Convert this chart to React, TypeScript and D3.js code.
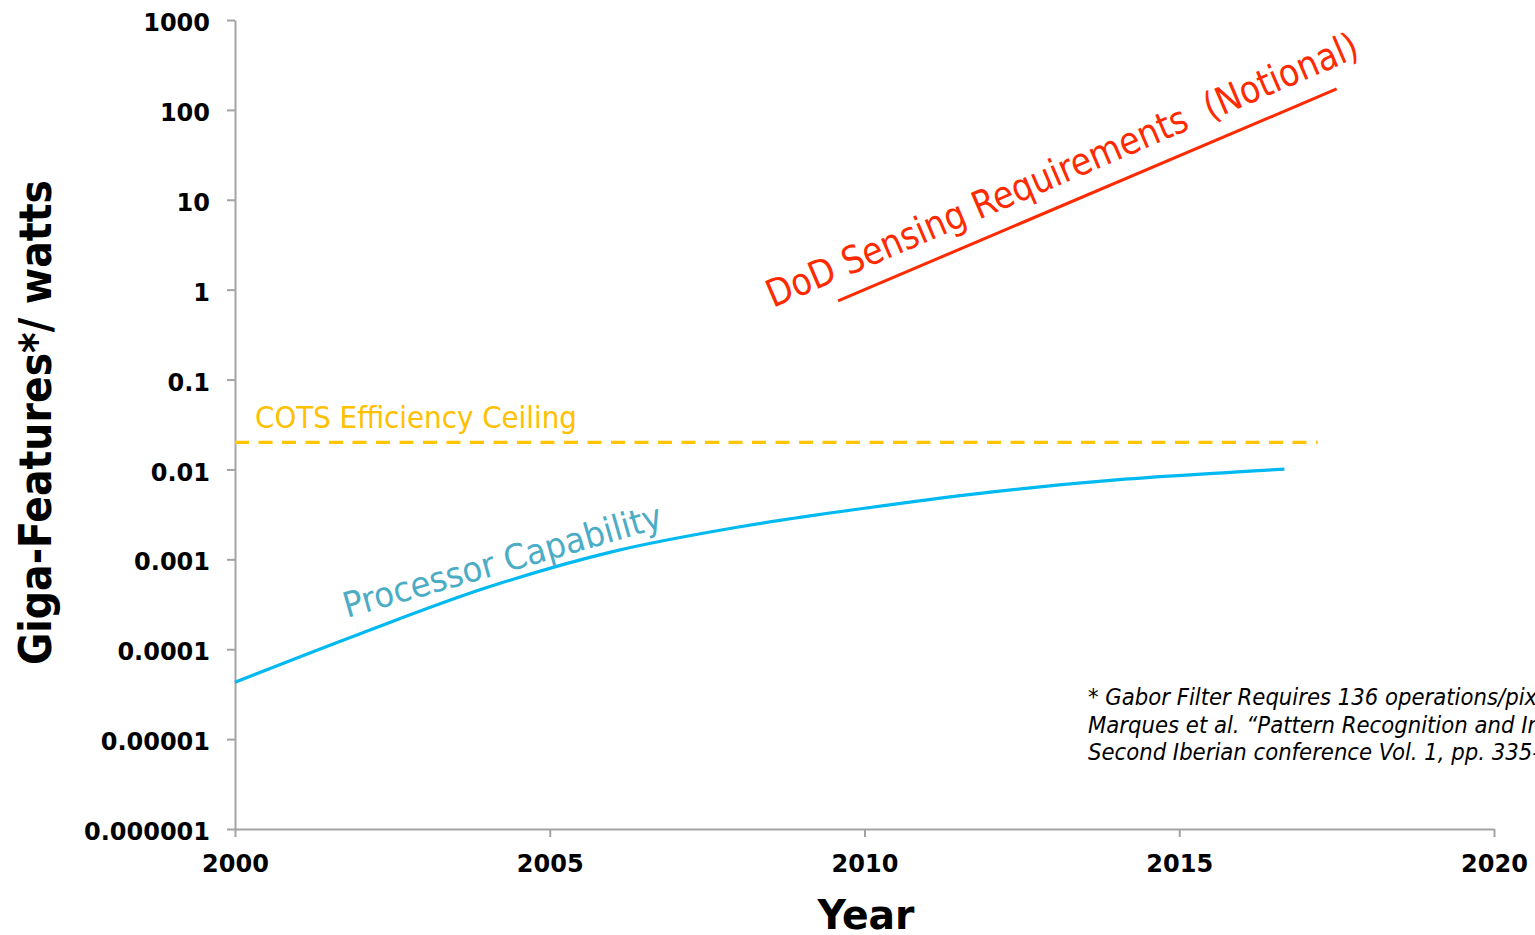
import React, { useEffect, useRef } from "react";
import * as d3 from "d3";

// Processor efficiency (Giga-Features per watt) by year
const procYears = [2000, 2002, 2004, 2006, 2008, 2010, 2012, 2014, 2016, 2016.67];
const procValues = [4.3e-5, 1.5e-4, 4.85e-4, 1.22e-3, 2.29e-3, 3.7e-3, 5.6e-3, 7.64e-3, 9.44e-3, 0.0101];

// Notional DoD sensing requirement trend
const reqYears = [2009.58, 2017.5];
const reqValues = [0.75, 171];

// COTS efficiency ceiling
const ceilingYears = [2000, 2017.2];
const ceilingValue = 0.02;

const yTicks = [1e-6, 1e-5, 1e-4, 1e-3, 1e-2, 0.1, 1, 10, 100, 1000];
const yTickLabels = ["0.000001", "0.00001", "0.0001", "0.001", "0.01", "0.1", "1", "10", "100", "1000"];
const xTicks = [2000, 2005, 2010, 2015, 2020];

const footnoteLines = [
  "* Gabor Filter Requires 136 operations/pixel",
  "Marques et al. \u201CPattern Recognition and Image Analysis\u201D",
  "Second Iberian conference Vol. 1, pp. 335-342",
];

const W = 1535;
const H = 935;
const FONT = "'DejaVu Sans Condensed', 'DejaVu Sans', sans-serif";
const AXIS_GREY = "#a3a3a3";

const x = d3.scaleLinear().domain([2000, 2020]).range([235, 1494]);
const y = d3.scaleLog().domain([1e-6, 1000]).range([829, 20]);

export default function App() {
  const xAxisRef = useRef<SVGGElement>(null);
  const yAxisRef = useRef<SVGGElement>(null);

  useEffect(() => {
    const yAxis = d3
      .axisLeft(y)
      .tickValues(yTicks)
      .tickFormat((_d, i) => yTickLabels[i])
      .tickSize(8)
      .tickSizeOuter(0)
      .tickPadding(17);
    const gy = d3.select(yAxisRef.current!);
    gy.call(yAxis as any);
    gy.select(".domain").attr("stroke", AXIS_GREY).attr("stroke-width", 2);
    gy.selectAll(".tick line").attr("stroke", AXIS_GREY).attr("stroke-width", 2);
    gy.selectAll(".tick text")
      .attr("dy", "0.44em")
      .attr("fill", "#000")
      .style("font-family", "'DejaVu Sans', sans-serif")
      .style("font-weight", "bold")
      .style("font-size", "24px");

    const xAxis = d3
      .axisBottom(x)
      .tickValues(xTicks)
      .tickFormat(d3.format("d") as any)
      .tickSize(8)
      .tickSizeOuter(0)
      .tickPadding(18);
    const gx = d3.select(xAxisRef.current!);
    gx.call(xAxis as any);
    gx.select(".domain").attr("stroke", AXIS_GREY).attr("stroke-width", 2);
    gx.selectAll(".tick line").attr("stroke", AXIS_GREY).attr("stroke-width", 2);
    gx.selectAll(".tick text")
      .attr("fill", "#000")
      .style("font-family", "'DejaVu Sans', sans-serif")
      .style("font-weight", "bold")
      .style("font-size", "24px");
  }, []);

  const procLine = d3
    .line<number>()
    .x((_v, i) => x(procYears[i]))
    .y((v) => y(v))
    .curve(d3.curveCatmullRom.alpha(0.5))(procValues);

  const reqLine = d3
    .line<number>()
    .x((_v, i) => x(reqYears[i]))
    .y((v) => y(v))(reqValues);

  const cy = y(ceilingValue);

  return (
    <svg
      width={W}
      height={H}
      style={{ position: "absolute", left: 0, top: 0, background: "#fff" }}
    >
      <g ref={yAxisRef} transform={`translate(${x(2000)},0)`} />
      <g ref={xAxisRef} transform={`translate(0,${y(1e-6)})`} />

      {/* COTS ceiling */}
      <line
        x1={x(ceilingYears[0])}
        x2={x(ceilingYears[1])}
        y1={cy}
        y2={cy}
        stroke="#FFC404"
        strokeWidth={3.2}
        strokeDasharray="14 9.5"
      />
      <text
        x={255}
        y={428}
        fill="#FFC000"
        fontFamily={FONT}
        fontSize={30}
        textLength={322}
        lengthAdjust="spacingAndGlyphs"
      >
        COTS Efficiency Ceiling
      </text>

      {/* processor capability */}
      <path d={procLine ?? ""} fill="none" stroke="#00B9F1" strokeWidth={3.2} />
      <text
        transform="translate(347,618) rotate(-16)"
        fill="#4BACC6"
        fontFamily={FONT}
        fontSize={35}
        textLength={330}
        lengthAdjust="spacingAndGlyphs"
      >
        Processor Capability
      </text>

      {/* DoD requirements */}
      <path d={reqLine ?? ""} fill="none" stroke="#FF2A00" strokeWidth={3} />
      <text
        transform="translate(773,308) rotate(-23.2)"
        fill="#FF2A00"
        fontFamily={FONT}
        fontSize={38}
        textLength={640}
        lengthAdjust="spacingAndGlyphs"
        style={{ whiteSpace: "pre" }}
      >
        {"DoD Sensing Requirements  (Notional)"}
      </text>

      {/* footnote */}
      {footnoteLines.map((t, i) => (
        <text
          key={i}
          x={1088}
          y={705 + i * 27.5}
          fill="#000"
          fontFamily={FONT}
          fontStyle="italic"
          fontSize={23.6}
        >
          {t}
        </text>
      ))}

      {/* axis titles */}
      <text
        x={866}
        y={929}
        textAnchor="middle"
        fill="#000"
        fontFamily={FONT}
        fontWeight="bold"
        fontSize={41}
        textLength={97}
        lengthAdjust="spacingAndGlyphs"
      >
        Year
      </text>
      <text
        transform="translate(51,422.5) rotate(-90)"
        textAnchor="middle"
        fill="#000"
        fontFamily={FONT}
        fontWeight="bold"
        fontSize={45}
        textLength={485}
        lengthAdjust="spacingAndGlyphs"
      >
        Giga-Features*/ watts
      </text>
    </svg>
  );
}
